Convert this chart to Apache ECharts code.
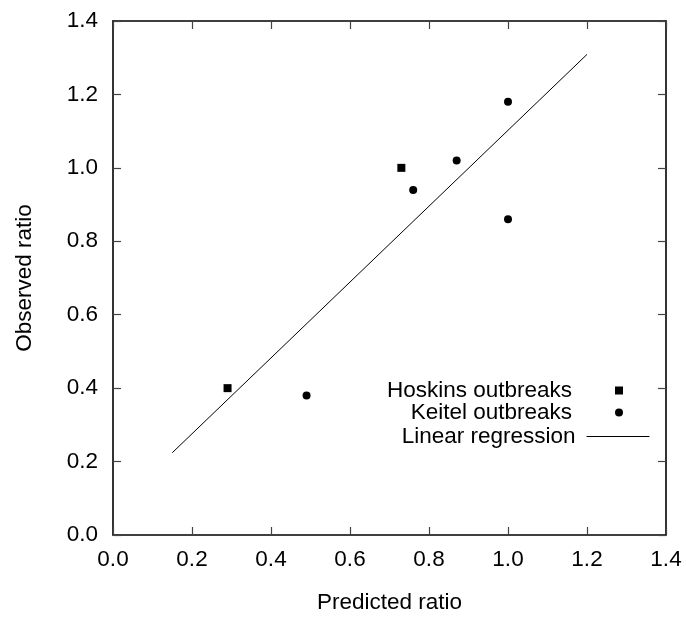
<!DOCTYPE html>
<html>
<head>
<meta charset="utf-8">
<script src="https://cdn.jsdelivr.net/npm/echarts@6/dist/echarts.min.js"></script>
<style>
html,body{margin:0;padding:0;background:#fff;}
#chart{width:686px;height:619px;}
</style>
</head>
<body>
<div id="chart"></div>
<script>
// Data
const hoskinsOutbreaks = [[0.29, 0.40], [0.73, 1.00]];
const keitelOutbreaks = [[0.49, 0.38], [0.76, 0.94], [0.87, 1.02], [1.00, 1.18], [1.00, 0.86]];
const linearRegression = [[0.15, 0.224], [1.20, 1.309]];
const seriesNames = ['Hoskins outbreaks', 'Keitel outbreaks', 'Linear regression'];
const axisMin = 0.0, axisMax = 1.4, axisStep = 0.2;
const xTitle = 'Predicted ratio';
const yTitle = 'Observed ratio';

const FONT = '"Liberation Sans", Arial, sans-serif';
const FS = 22.5;

const chart = echarts.init(document.getElementById('chart'), null, {renderer: 'canvas'});

function mainAxis(name, gap) {
  return {
    type: 'value', min: axisMin, max: axisMax, interval: axisStep,
    name: name, nameLocation: 'middle', nameGap: gap,
    nameTextStyle: {fontFamily: FONT, fontSize: FS, color: '#000'},
    axisLine: {show: true, onZero: false, lineStyle: {color: '#000', width: 1.6}},
    axisTick: {show: true, inside: true, length: 8, lineStyle: {color: '#444', width: 1.2}},
    axisLabel: {fontFamily: FONT, fontSize: FS, color: '#000', formatter: v => v.toFixed(1)},
    splitLine: {show: false}
  };
}
function mirrorAxis(pos) {
  return {
    type: 'value', position: pos, min: axisMin, max: axisMax, interval: axisStep,
    axisLine: {show: true, onZero: false, lineStyle: {color: '#000', width: 1.6}},
    axisTick: {show: true, inside: true, length: 8, lineStyle: {color: '#444', width: 1.2}},
    axisLabel: {show: false},
    splitLine: {show: false}
  };
}
const xMain = mainAxis(xTitle, 56); xMain.position = 'bottom'; xMain.axisLabel.margin = 13;
const yMain = mainAxis(yTitle, 77); yMain.position = 'left'; yMain.axisLabel.margin = 15;

function legendItem(name, icon, w, h, right, top, padRight, extra) {
  return Object.assign({
    data: [{name: name, icon: icon}],
    orient: 'vertical', align: 'right', right: right, top: top,
    itemWidth: w, itemHeight: h, padding: 0, selectedMode: false,
    textStyle: {fontFamily: FONT, fontSize: FS, color: '#000', lineHeight: 22, padding: [0, padRight, 0, 0]}
  }, extra || {});
}

chart.setOption({
  animation: false,
  backgroundColor: '#fff',
  grid: {left: 113, right: 20, top: 21, bottom: 82, containLabel: false},
  xAxis: [xMain, mirrorAxis('top')],
  yAxis: [yMain, mirrorAxis('right')],
  legend: [
    legendItem(seriesNames[0], 'rect', 8, 8, 63, 379, 38),
    legendItem(seriesNames[1], 'circle', 8, 8, 63, 401, 38),
    legendItem(seriesNames[2], undefined, 63, 8, 36, 425, 6,
      {itemStyle: {color: 'rgba(0,0,0,0)', borderWidth: 0, opacity: 0},
       lineStyle: {color: '#000', width: 1, opacity: 1}})
  ],
  series: [
    {name: seriesNames[0], type: 'scatter', xAxisIndex: 0, yAxisIndex: 0, data: hoskinsOutbreaks,
     symbol: 'rect', symbolSize: 8, itemStyle: {color: '#000', opacity: 1}},
    {name: seriesNames[1], type: 'scatter', xAxisIndex: 0, yAxisIndex: 0, data: keitelOutbreaks,
     symbol: 'circle', symbolSize: 8, itemStyle: {color: '#000', opacity: 1}},
    {name: seriesNames[2], type: 'line', xAxisIndex: 0, yAxisIndex: 0, data: linearRegression,
     symbol: 'none', showSymbol: false, lineStyle: {color: '#000', width: 1}, itemStyle: {color: '#000'}}
  ]
});
</script>
</body>
</html>
